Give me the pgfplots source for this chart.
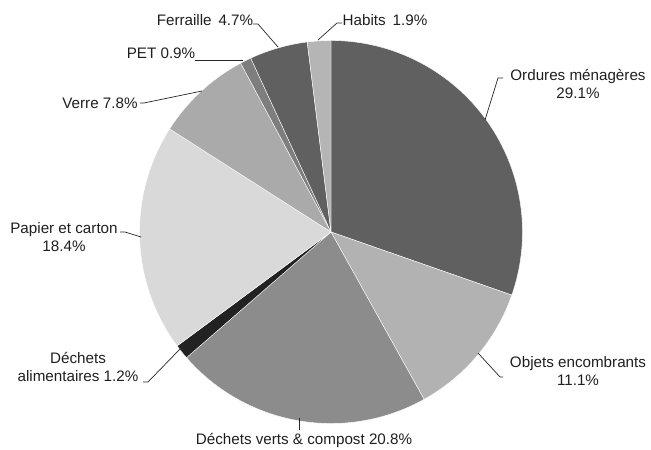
\documentclass[border=0pt]{standalone}
\usepackage{pgfplots}
\usepackage{pgfplotstable}
\pgfplotsset{compat=1.18}
\usepackage{fontspec}
\setmainfont{Liberation Sans}

\definecolor{s0}{HTML}{606060}
\definecolor{s1}{HTML}{B2B2B2}
\definecolor{s2}{HTML}{8C8C8C}
\definecolor{s3}{HTML}{222222}
\definecolor{s4}{HTML}{D9D9D9}
\definecolor{s5}{HTML}{AAAAAA}
\definecolor{s6}{HTML}{7E7E7E}
\definecolor{s7}{HTML}{606060}
\definecolor{s8}{HTML}{B5B5B5}

\tikzset{lbl/.style={font=\fontsize{15.2}{18}\selectfont, inner sep=0pt, align=center, text=black!88}}

\pgfplotstableread{
value
29.1
11.1
20.8
1.2
18.4
7.8
0.9
4.7
1.9
}\piedata

\begin{document}
\gdef\tot{0}%
\pgfplotsforeachungrouped \i in {0,...,8}{%
  \pgfplotstablegetelem{\i}{value}\of\piedata
  \pgfmathparse{\tot+\pgfplotsretval}\xdef\tot{\pgfmathresult}}%
\gdef\cum{90}%
\pgfplotsforeachungrouped \i in {0,...,8}{%
  \pgfplotstablegetelem{\i}{value}\of\piedata
  \pgfmathparse{\cum-360*\pgfplotsretval/\tot}%
  \expandafter\xdef\csname ea\i\endcsname{\pgfmathresult}%
  \expandafter\xdef\csname sa\i\endcsname{\cum}%
  \xdef\cum{\pgfmathresult}}%
\begin{tikzpicture}
\begin{axis}[x=1pt,y=1pt,xmin=0,xmax=651,ymin=0,ymax=450,hide axis,clip=false,scale only axis]
\path (axis cs:0,0) rectangle (axis cs:651,450);
\pgfplotsinvokeforeach{0,...,8}{%
  \edef\temp{\noexpand\fill[s#1,draw=white,line width=0.4pt] (axis cs:331,218) -- ++(\csname sa#1\endcsname:191.5pt) arc[start angle=\csname sa#1\endcsname, end angle=\csname ea#1\endcsname, radius=191.5pt] -- cycle;}%
  \temp
}
% leaders
\begin{scope}[black!85, line width=0.7pt]
\draw (axis cs:485,330) -- (axis cs:498,372) -- (axis cs:503,372);
\draw (axis cs:478,97) -- (axis cs:500,73) -- (axis cs:503,73);
\draw (axis cs:299,32) -- (axis cs:299,20);
\draw (axis cs:143,68) -- (axis cs:148,68) -- (axis cs:182,103);
\draw (axis cs:120,218) -- (axis cs:125,218) -- (axis cs:141,213);
\draw (axis cs:140,347) -- (axis cs:144,347) -- (axis cs:202,359);
\draw (axis cs:195,390) -- (axis cs:243,390);
\draw (axis cs:253,426) -- (axis cs:258,426) -- (axis cs:278,403);
\draw (axis cs:318,410) -- (axis cs:337,427) -- (axis cs:342,427);
\end{scope}
% labels
\node[lbl] at (axis cs:578,366) {Ordures ménagères\\29.1\%};
\node[lbl] at (axis cs:578,79) {Objets encombrants\\11.1\%};
\node[lbl] at (axis cs:304,10) {Déchets verts \& compost 20.8\%};
\node[lbl] at (axis cs:78,83) {Déchets\\alimentaires 1.2\%};
\node[lbl] at (axis cs:64,213) {Papier et carton\\18.4\%};
\node[lbl] at (axis cs:100,347) {Verre 7.8\%};
\node[lbl] at (axis cs:161,397) {PET 0.9\%};
\node[lbl] at (axis cs:205,430) {Ferraille\hspace{0.45em}4.7\%};
\node[lbl] at (axis cs:385,430) {Habits\hspace{0.45em}1.9\%};
\end{axis}
\end{tikzpicture}
\end{document}
